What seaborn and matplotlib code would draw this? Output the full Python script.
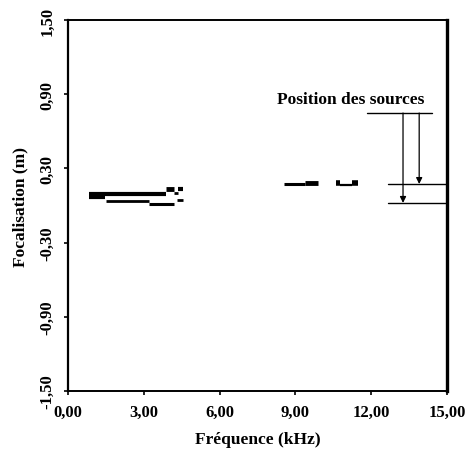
import matplotlib
matplotlib.use("Agg")
import matplotlib.pyplot as plt
import seaborn as sns
import pandas as pd

# focalisation tracks: start / end frequency (kHz) and position (m)
seg_start = [0.83, 0.83, 3.87, 4.18, 4.34, 1.50, 3.20, 4.30, 8.53, 9.40, 10.62, 10.78, 11.25]
seg_end = [3.87, 1.45, 4.18, 4.34, 4.54, 3.20, 4.18, 4.54, 9.40, 9.91, 10.78, 11.25, 11.49]
seg_focus = [0.093, 0.069, 0.134, 0.100, 0.134, 0.037, 0.013, 0.045, 0.170, 0.182, 0.182, 0.168, 0.182]

# true source positions (m)
source_pos = [0.174, 0.021]
source_arrow_x = [13.90, 13.26]
source_line_from = 12.67
label_line = [11.84, 14.41]
label_line_y = 0.748

x_ticks = [0, 3, 6, 9, 12, 15]
y_ticks = [-1.5, -0.9, -0.3, 0.3, 0.9, 1.5]

# styles
seg_lw = [3.0, 3.0, 3.5, 2.0, 3.0, 2.0, 2.2, 2.0, 2.2, 3.5, 4.0, 1.6, 4.0]

sns.set_theme(style="ticks")
plt.rcParams['font.family'] = ['Liberation Serif', 'DejaVu Serif']
plt.rcParams['font.weight'] = 'bold'
plt.rcParams['text.color'] = 'black'
plt.rcParams['axes.labelcolor'] = 'black'
plt.rcParams['xtick.color'] = 'black'
plt.rcParams['ytick.color'] = 'black'

fig = plt.figure(figsize=(4.71, 4.60), dpi=100)
ax = fig.add_axes([0.1444, 0.1478, 0.8046, 0.8065])

segs = pd.DataFrame({"start": seg_start, "end": seg_end, "focus": seg_focus})
for i, row in segs.iterrows():
    sns.lineplot(x=[row["start"], row["end"]], y=[row["focus"], row["focus"]],
                 ax=ax, color="black", linewidth=seg_lw[i], solid_capstyle="butt")

# source markers
for pos, ax_x in zip(source_pos, source_arrow_x):
    ax.plot([source_line_from, 15], [pos, pos], color="black", lw=1.0)
    ax.annotate("", xy=(ax_x, pos), xytext=(ax_x, label_line_y),
                arrowprops=dict(arrowstyle="-|>", color="black", lw=0.9,
                                mutation_scale=9, shrinkA=0, shrinkB=0))
ax.plot(label_line, [label_line_y, label_line_y], color="black", lw=1.0)
ax.text(11.2, 0.86, "Position des sources", ha="center", va="center",
        fontsize=12.5, fontweight="bold", color="black")

ax.set_xlim(0, 15)
ax.set_ylim(-1.5, 1.5)
ax.set_xticks(x_ticks)
ax.set_xticklabels([f"{v:.2f}".replace(".", ",") for v in x_ticks], fontsize=12, fontweight="bold")
ax.set_yticks(y_ticks)
ax.set_yticklabels([f"{v:.2f}".replace(".", ",") for v in y_ticks], fontsize=12,
                   fontweight="bold", rotation=90, va="center")
ax.tick_params(axis="both", direction="out", length=3, width=1.2, colors="black", pad=6)
ax.set_xlabel("Fréquence (kHz)", fontsize=12.5, fontweight="bold", labelpad=8)
ax.set_ylabel("Focalisation (m)", fontsize=12.5, fontweight="bold", labelpad=8)

for side in ["top", "right", "left", "bottom"]:
    ax.spines[side].set_visible(True)
    ax.spines[side].set_color("black")
ax.spines["top"].set_linewidth(1.4)
ax.spines["bottom"].set_linewidth(1.4)
ax.spines["left"].set_linewidth(1.6)
ax.spines["right"].set_linewidth(2.4)

fig.savefig("out.png", dpi=100)
